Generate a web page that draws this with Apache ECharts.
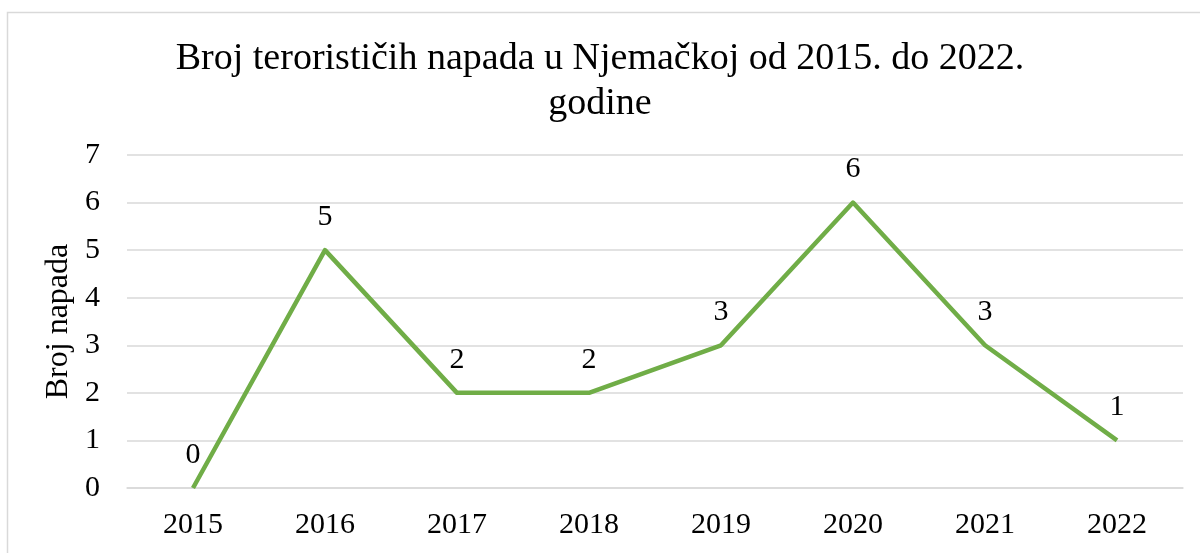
<!DOCTYPE html>
<html>
<head>
<meta charset="utf-8">
<script src="https://cdn.jsdelivr.net/npm/echarts@6/dist/echarts.min.js"></script>
<style>
  html, body { margin: 0; padding: 0; background: #fff; }
  #chart { width: 1200px; height: 553px; }
</style>
</head>
<body>
<div id="chart"></div>
<script>
// podaci
var years = ['2015', '2016', '2017', '2018', '2019', '2020', '2021', '2022'];
var attacks = [0, 5, 2, 2, 3, 6, 3, 1];
var titleText = 'Broj terorističih napada u Njemačkoj od 2015. do 2022.\ngodine';
var yName = 'Broj napada';

var serif = '"Liberation Serif", "DejaVu Serif", serif';

var myChart = echarts.init(document.getElementById('chart'));
myChart.setOption({
    animation: false,
    graphic: [{
        type: 'rect',
        shape: { x: 7.5, y: 12.5, width: 1200, height: 600 },
        style: { fill: 'none', stroke: '#d9d9d9', lineWidth: 1.5 },
        silent: true
    }],
    title: {
        text: titleText,
        left: 'center',
        top: 32,
        textStyle: {
            fontFamily: serif,
            fontSize: 38,
            fontWeight: 'normal',
            color: '#000',
            lineHeight: 45
        }
    },
    grid: {
        left: 127,
        right: 17,
        top: 155,
        bottom: 65
    },
    xAxis: {
        type: 'category',
        data: years,
        boundaryGap: true,
        axisLine: { show: true, lineStyle: { color: '#d9d9d9', width: 1.5 } },
        axisTick: { show: false },
        axisLabel: {
            fontFamily: serif,
            fontSize: 30,
            color: '#000',
            margin: 22
        }
    },
    yAxis: {
        type: 'value',
        min: 0,
        max: 7,
        interval: 1,
        name: yName,
        nameLocation: 'middle',
        nameGap: 49,
        nameTextStyle: {
            fontFamily: serif,
            fontSize: 32,
            color: '#000'
        },
        axisLine: { show: false },
        axisTick: { show: false },
        axisLabel: {
            fontFamily: serif,
            fontSize: 30,
            color: '#000',
            margin: 27
        },
        splitLine: { lineStyle: { color: '#d9d9d9', width: 1.5 } }
    },
    series: [{
        type: 'line',
        data: attacks,
        symbol: 'circle',
        symbolSize: 0,
        showSymbol: true,
        lineStyle: { color: '#70ad47', width: 4.5, join: 'round' },
        itemStyle: { color: '#70ad47' },
        label: {
            show: true,
            position: 'top',
            distance: 18,
            fontFamily: serif,
            fontSize: 30,
            color: '#000'
        }
    }]
});
</script>
</body>
</html>
